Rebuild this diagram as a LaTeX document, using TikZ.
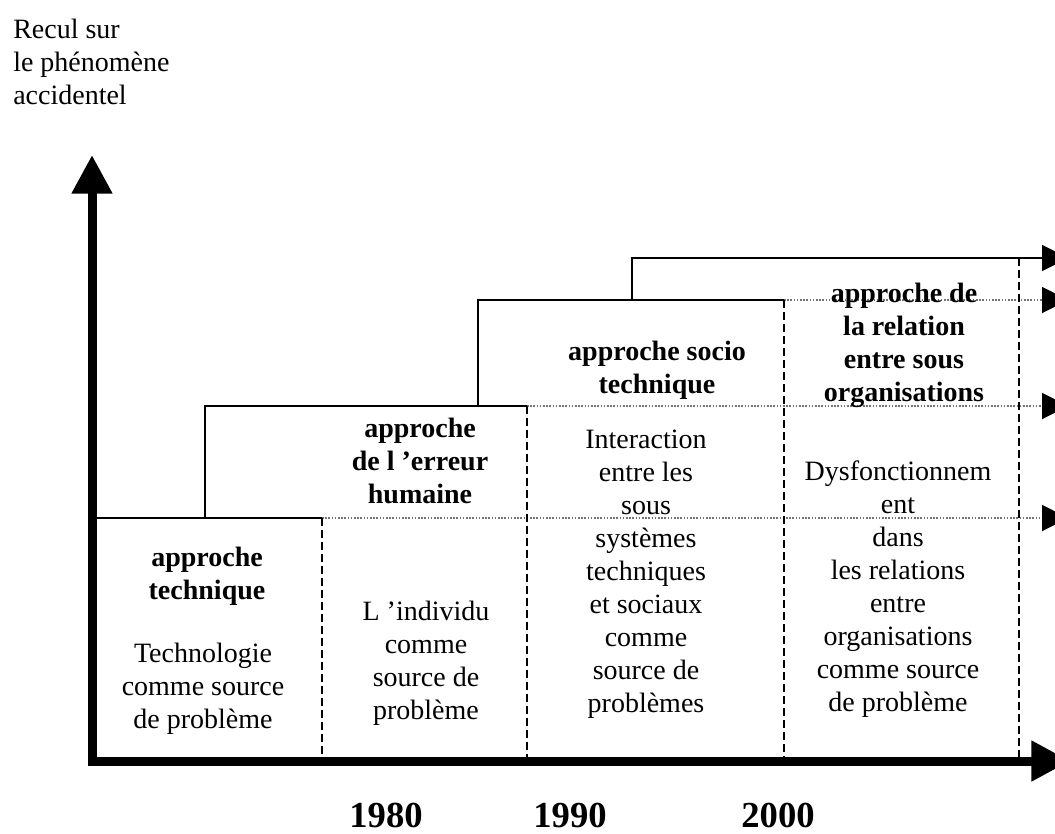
\documentclass[tikz,border=0pt]{standalone}
\usepackage{fontspec}
\setmainfont{Liberation Serif}
\usetikzlibrary{arrows.meta}
\tikzset{
  body/.style={font=\fontsize{21}{24.7}\selectfont, align=center, inner sep=0pt, anchor=north},
  head/.style={body, font=\fontsize{21}{24.7}\selectfont\bfseries},
  year/.style={font=\fontsize{27.5}{30}\selectfont\bfseries, inner sep=0pt, anchor=base},
  boxline/.style={line width=1.4pt, black, line join=miter},
  sep/.style={line width=1.3pt, black, dash pattern=on 6pt off 3pt},
  level/.style={line width=1.4pt, black!55, dash pattern=on 1.2pt off 1.2pt,
    -{Triangle[length=19.5pt, width=19.5pt, color=black, fill=black]}},
  axis/.style={line width=6.75pt, line join=miter,
    {Triangle[length=29pt, width=29pt]}-{Triangle[length=29pt, width=29pt]}}
}
\begin{document}
\begin{tikzpicture}[x=0.75pt, y=-0.75pt]
\useasboundingbox (0,0) rectangle (1055,833);
\clip (0,0) rectangle (1055,833);
% coordinates
\coordinate (O) at (92,761);
\coordinate (Ytip) at (92,155);
\coordinate (Xtip) at (1070,761);
\coordinate (a1) at (92,518);
\coordinate (b1) at (322,518);
\coordinate (c1) at (322,761);
\coordinate (a2) at (205,518);
\coordinate (b2) at (205,406);
\coordinate (c2) at (527,406);
\coordinate (d2) at (527,761);
\coordinate (a3) at (478,406);
\coordinate (b3) at (478,300);
\coordinate (c3) at (784,300);
\coordinate (d3) at (784,761);
\coordinate (a4) at (632,300);
\coordinate (b4) at (632,258);
\coordinate (e4) at (1019,258);
\coordinate (d4) at (1019,761);
\coordinate (r1) at (1068,518);
\coordinate (r2) at (1068,406);
\coordinate (r3) at (1068,300);
\coordinate (r4) at (1068,258);
% levels (dotted)
\draw[level] (b1) -- (r1);
\draw[level] (c2) -- (r2);
\draw[level] (c3) -- (r3);
% steps
\draw[boxline] (a1) -- (b1);
\draw[boxline] (a2) -- (b2) -- (c2);
\draw[boxline] (a3) -- (b3) -- (c3);
\draw[boxline, -{Triangle[length=19.5pt, width=19.5pt]}] (a4) -- (b4) -- (r4);
% separators (dashed)
\draw[sep] (b1) -- (c1);
\draw[sep] (c2) -- (d2);
\draw[sep] (c3) -- (d3);
\draw[sep] (e4) -- (d4);
% axes
\draw[axis] (Ytip) -- (O) -- (Xtip);
% texts
\node[body, align=left, anchor=north west] (ylabel) at (13,19) {Recul sur\\le phénomène\\accidentel};
\node[head] (h1) at (207,547) {approche\\technique};
\node[body] (t1) at (203,643) {Technologie\\comme source\\de problème};
\node[head] (h2) at (420,418) {approche\\de l ’erreur\\humaine};
\node[body] (t2) at (426,601) {L ’individu\\comme\\source de\\problème};
\node[head] (h3) at (657,341) {approche socio\\technique};
\node[body] (t3) at (646,430) {Interaction\\entre les\\sous\\systèmes\\techniques\\et sociaux\\comme\\source de\\problèmes};
\node[head] (h4) at (904,283) {approche de\\la relation\\entre sous\\organisations};
\node[body] (t4) at (898,461) {Dysfonctionnem\\ent\\dans\\les relations\\entre\\organisations\\comme source\\de problème};
\node[year] (y1) at (386,827) {1980};
\node[year] (y2) at (570,827) {1990};
\node[year] (y3) at (778,827) {2000};
\end{tikzpicture}
\end{document}
